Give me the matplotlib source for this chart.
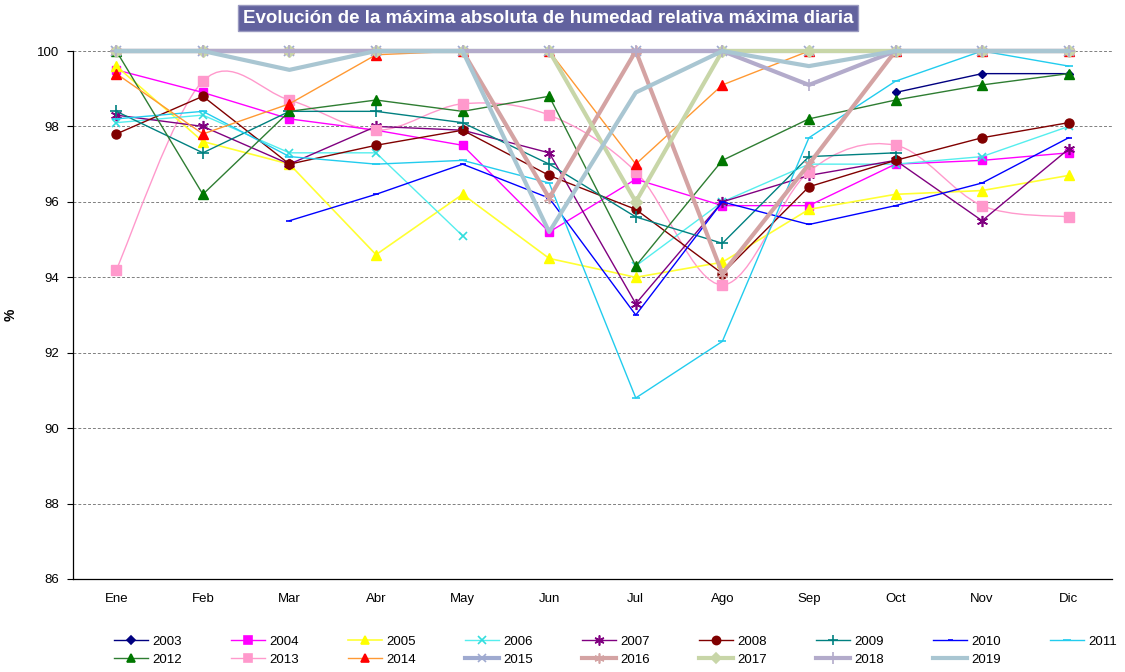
import numpy as np
import matplotlib
matplotlib.use("Agg")
import matplotlib.pyplot as plt
from matplotlib.path import Path
from matplotlib.patches import PathPatch
from matplotlib.lines import Line2D

plt.rcParams['font.family'] = ['Liberation Sans', 'DejaVu Sans']

nan = np.nan
months = ['Ene', 'Feb', 'Mar', 'Abr', 'May', 'Jun', 'Jul', 'Ago', 'Sep', 'Oct', 'Nov', 'Dic']

# maxima absoluta de humedad relativa (%) por mes y año
y2003 = [nan, nan, nan, nan, nan, nan, nan, nan, nan, 98.9, 99.4, 99.4]
y2004 = [99.5, 98.9, 98.2, 97.9, 97.5, 95.2, 96.6, 95.9, 95.9, 97.0, 97.1, 97.3]
y2005 = [99.6, 97.6, 97.0, 94.6, 96.2, 94.5, 94.0, 94.4, 95.8, 96.2, 96.3, 96.7]
y2006 = [98.1, 98.3, 97.3, 97.3, 95.1, nan, 94.3, 96.0, 97.0, 97.0, 97.2, 98.0]
y2007 = [98.3, 98.0, 97.0, 98.0, 97.9, 97.3, 93.3, 96.0, 96.7, 97.1, 95.5, 97.4]
y2008 = [97.8, 98.8, 97.0, 97.5, 97.9, 96.7, 95.8, 94.1, 96.4, 97.1, 97.7, 98.1]
y2009 = [98.4, 97.3, 98.4, 98.4, 98.1, 97.0, 95.6, 94.9, 97.2, 97.3, nan, nan]
y2010 = [nan, nan, 95.5, 96.2, 97.0, 96.1, 93.0, 96.0, 95.4, 95.9, 96.5, 97.7]
y2011 = [98.2, 98.4, 97.2, 97.0, 97.1, 96.5, 90.8, 92.3, 97.7, 99.2, 100.0, 99.6]
y2012 = [100.0, 96.2, 98.4, 98.7, 98.4, 98.8, 94.3, 97.1, 98.2, 98.7, 99.1, 99.4]
y2013 = [94.2, 99.2, 98.7, 97.9, 98.6, 98.3, 96.8, 93.8, 96.8, 97.5, 95.9, 95.6]
y2014 = [99.4, 97.8, 98.6, 99.9, 100.0, 100.0, 97.0, 99.1, 100.0, 100.0, 100.0, 100.0]
y2015 = [100.0, 100.0, 100.0, 100.0, 100.0, 100.0, 100.0, 100.0, 100.0, 100.0, 100.0, 100.0]
y2016 = [100.0, 100.0, 100.0, 100.0, 100.0, 96.1, 100.0, 94.1, 97.0, 100.0, 100.0, 100.0]
y2017 = [100.0, 100.0, 100.0, 100.0, 100.0, 100.0, 96.0, 100.0, 100.0, 100.0, 100.0, 100.0]
y2018 = [100.0, 100.0, 100.0, 100.0, 100.0, 100.0, 100.0, 100.0, 99.1, 100.0, 100.0, 100.0]
y2019 = [100.0, 100.0, 99.5, 100.0, 100.0, 95.2, 98.9, 100.0, 99.6, 100.0, 100.0, 100.0]

years = ['2003', '2004', '2005', '2006', '2007', '2008', '2009', '2010', '2011',
         '2012', '2013', '2014', '2015', '2016', '2017', '2018', '2019']
values = [y2003, y2004, y2005, y2006, y2007, y2008, y2009, y2010, y2011,
          y2012, y2013, y2014, y2015, y2016, y2017, y2018, y2019]

# (line colour, line width, marker, marker colour, marker size, smoothed)
styles = {
    '2003': ('#000080', 1.0, 'D', '#000080', 4.5, False),
    '2004': ('#FF00FF', 1.0, 's', '#FF00FF', 6, False),
    '2005': ('#FFFF33', 1.2, '^', '#FFFF00', 6.5, False),
    '2006': ('#55EEEE', 1.0, 'x', '#33DDDD', 6, False),
    '2007': ('#800080', 1.0, (6, 2, 0), '#800080', 8, False),
    '2008': ('#800000', 1.0, 'o', '#800000', 6.5, False),
    '2009': ('#008080', 1.0, '+', '#008080', 8, False),
    '2010': ('#0000FF', 1.0, '_', '#0000FF', 4, False),
    '2011': ('#22CCEE', 1.0, '_', '#22CCEE', 6, False),
    '2012': ('#2E7D32', 1.0, '^', '#007700', 6.5, False),
    '2013': ('#FF99CC', 1.0, 's', '#FF99CC', 6.5, True),
    '2014': ('#FF9933', 1.0, '^', '#FF0000', 6.5, False),
    '2015': ('#9FAAD0', 3.0, 'x', '#9FAAD0', 7, False),
    '2016': ('#D4A3A3', 3.0, (6, 2, 0), '#D4A3A3', 8, False),
    '2017': ('#C8D6A8', 3.0, 'D', '#C8D6A8', 6, False),
    '2018': ('#B3ABCB', 3.0, '+', '#B3ABCB', 9, False),
    '2019': ('#A9C6D2', 3.0, None, '#A9C6D2', 0, False),
}


def smooth_path(x, y):
    # Bezier curve through the points (Excel-style smoothed line)
    verts = [(x[0], y[0])]
    codes = [Path.MOVETO]
    n = len(x)
    for i in range(n - 1):
        x0, y0 = (x[i - 1], y[i - 1]) if i > 0 else (x[i], y[i])
        x3, y3 = (x[i + 2], y[i + 2]) if i + 2 < n else (x[i + 1], y[i + 1])
        c1 = (x[i] + (x[i + 1] - x0) / 6.0, y[i] + (y[i + 1] - y0) / 6.0)
        c2 = (x[i + 1] - (x3 - x[i]) / 6.0, y[i + 1] - (y3 - y[i]) / 6.0)
        verts += [c1, c2, (x[i + 1], y[i + 1])]
        codes += [Path.CURVE4] * 3
    return Path(verts, codes)


fig = plt.figure(figsize=(11.25, 6.72), dpi=100)
ax = fig.add_axes([0.0649, 0.1384, 0.9235, 0.7857])

xs = np.arange(len(months))
handles = {}
for yr, vals in zip(years, values):
    lc, lw, mk, mc, ms, smooth = styles[yr]
    v = np.array(vals, dtype=float)
    if smooth:
        ax.add_patch(PathPatch(smooth_path(xs, v), fill=False, edgecolor=lc,
                               lw=lw, clip_on=False, zorder=2))
        ax.plot(xs, v, ls='none', marker=mk, color=mc, ms=ms, mec=mc,
                clip_on=False, zorder=3)
    else:
        ax.plot(xs, v, color=lc, lw=lw, marker=mk, ms=ms, mfc=mc, mec=mc,
                mew=1.2 if mk in ('x', '+', '_', (6, 2, 0)) else 1.0,
                clip_on=False, zorder=3)
    handles[yr] = Line2D([], [], color=lc, lw=lw, marker=mk, ms=ms * 0.9,
                         mfc=mc, mec=mc, mew=1.2)

ax.set_xlim(-0.5, 11.5)
ax.set_ylim(86, 100)
ax.set_xticks(xs)
ax.set_xticklabels(months, fontsize=9.5)
ax.set_yticks(np.arange(86, 101, 2))
ax.set_yticklabels([str(t) for t in range(86, 101, 2)], fontsize=9.5)
ax.tick_params(axis='x', length=0, pad=10)
ax.tick_params(axis='y', length=4, pad=6)
ax.set_ylabel('%', fontsize=10, fontweight='bold', labelpad=14)

ax.grid(axis='y', color='#808080', ls=(0, (3, 2)), lw=0.7)
ax.set_axisbelow(True)
for s in ['top', 'right']:
    ax.spines[s].set_visible(False)
ax.spines['left'].set_linewidth(0.9)
ax.spines['bottom'].set_linewidth(0.9)

fig.text(0.487, 0.973, 'Evolución de la máxima absoluta de humedad relativa máxima diaria',
         ha='center', va='center', color='white', fontsize=13.5, fontweight='bold',
         bbox=dict(boxstyle='square,pad=0.25', facecolor='#62629E', edgecolor='#9a9ac0'))

# legend: row 1 = 2003..2011, row 2 = 2012..2019 (matplotlib fills by column)
order = []
for i in range(9):
    order.append(years[i])
    if i + 9 < len(years):
        order.append(years[i + 9])
fig.legend([handles[y] for y in order], order, loc='upper left',
           bbox_to_anchor=(0.093, 0.068), ncol=9, frameon=False, fontsize=9.5,
           handlelength=2.6, handletextpad=0.3, columnspacing=3.72,
           labelspacing=0.45, borderpad=0.2)

fig.savefig('out.png', dpi=100)
